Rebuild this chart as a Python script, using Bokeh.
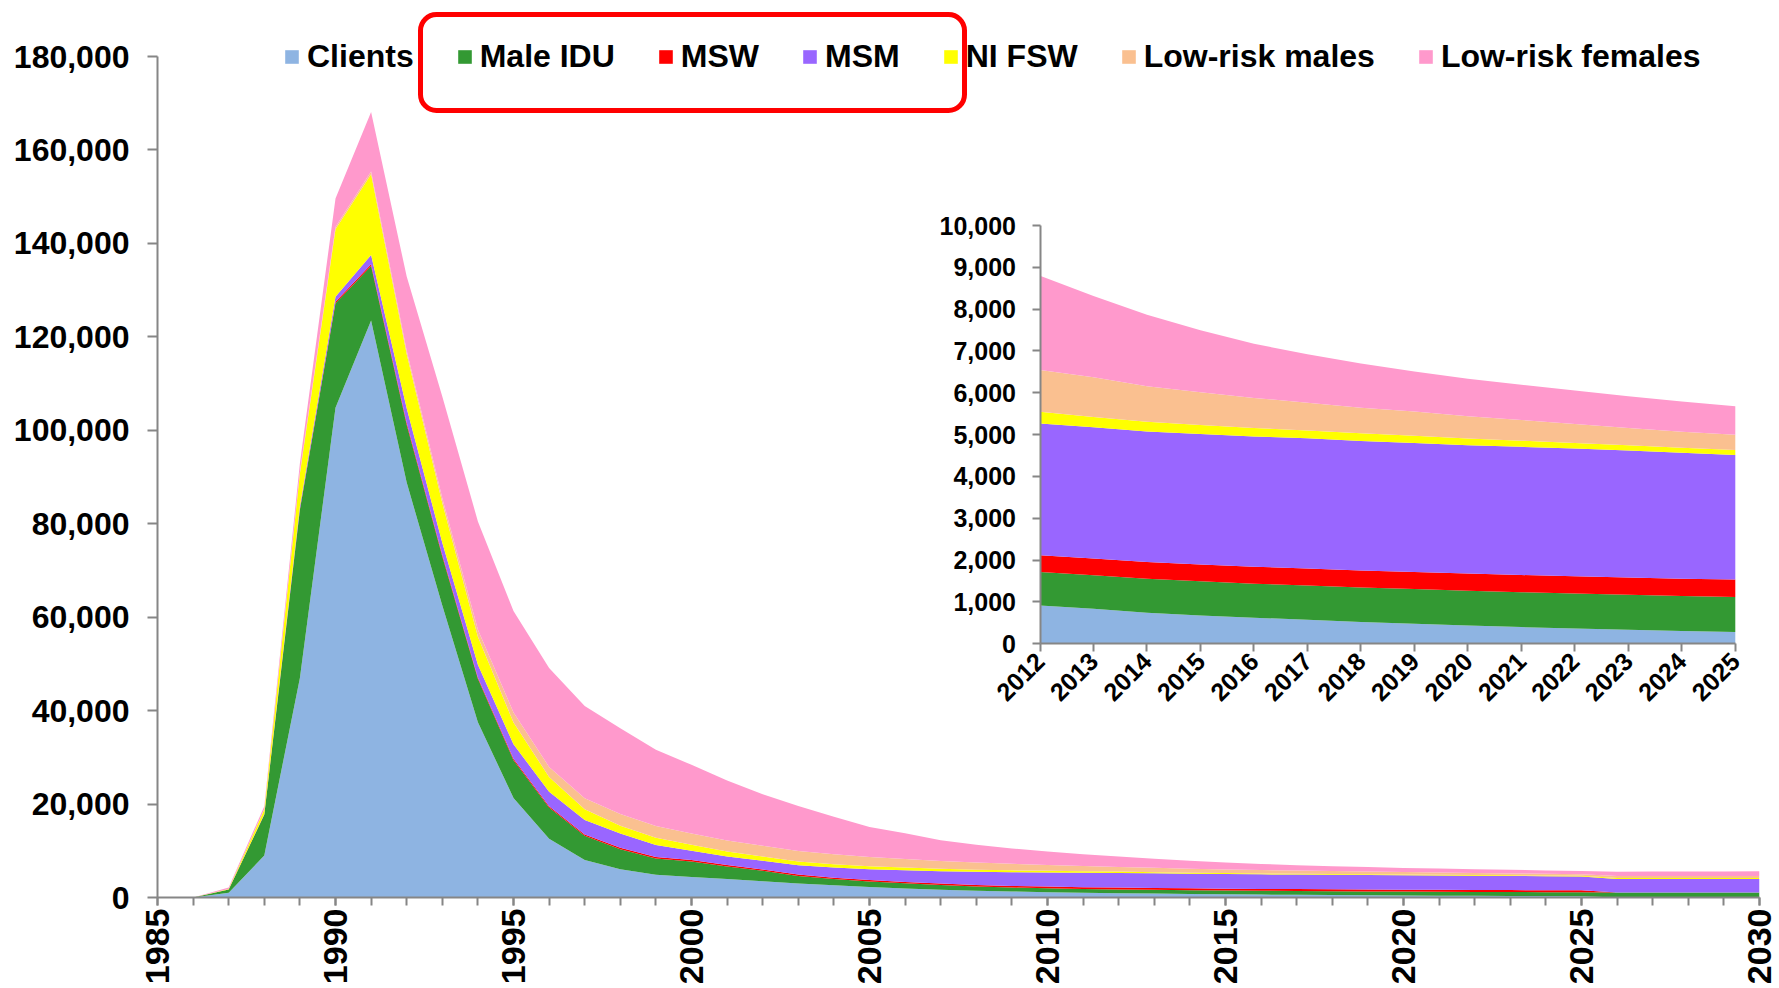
import math
from bokeh.plotting import figure
from bokeh.models import (Range1d, LinearAxis, FixedTicker, NumeralTickFormatter,
                          ColumnDataSource, BoxAnnotation)
from bokeh.embed import file_html
from bokeh.resources import INLINE

# ---------------- data ----------------
years = list(range(1985, 2031))
clients = [0, 0, 1000, 9000, 47000, 104800, 123500, 88800, 62500, 37500,
           21300, 12600, 8000, 6050, 4850, 4400, 3950, 3500, 3000, 2600,
           2250, 1950, 1680, 1450, 1280, 1150, 1030, 918, 839, 743,
           679, 623, 575, 519, 479, 439, 399, 367, 335, 304,
           280, 0, 0, 0, 0, 0]
male_idu = [0, 0, 700, 8700, 36000, 22400, 11650, 12400, 10500, 9300,
            8100, 6650, 5200, 4300, 3500, 3300, 2700, 2200, 1600, 1350,
            1200, 1080, 1000, 900, 860, 830, 810, 800, 800, 810,
            815, 815, 820, 825, 830, 830, 835, 835, 835, 838,
            840, 1080, 1080, 1080, 1080, 1080]
msw = [0, 0, 0, 50, 150, 300, 400, 400, 350, 300,
       300, 300, 300, 300, 300, 300, 300, 300, 300, 300,
       300, 300, 300, 300, 330, 360, 380, 400, 400, 402,
       404, 405, 406, 407, 408, 409, 410, 411, 412, 414,
       416, 0, 0, 0, 0, 0]
msm = [0, 0, 20, 100, 600, 1100, 1950, 3100, 2600, 2700,
       3100, 3100, 3100, 3050, 2600, 2000, 1850, 1850, 2020, 2170,
       2310, 2520, 2650, 2840, 2950, 3020, 3080, 3150, 3135, 3120,
       3115, 3115, 3110, 3100, 3085, 3070, 3065, 3055, 3040, 3010,
       2980, 2900, 2900, 2890, 2890, 2880]
ni_fsw = [0, 0, 100, 1000, 7000, 14400, 17300, 11600, 8500, 6000,
          4650, 3150, 2300, 1650, 1550, 1300, 1050, 930, 800, 720,
          650, 580, 520, 450, 390, 340, 300, 280, 250, 232,
          216, 200, 188, 180, 170, 160, 148, 135, 125, 120,
          120, 200, 200, 200, 200, 200]
lr_males = [0, 0, 20, 100, 300, 500, 600, 700, 1000, 1500,
            2150, 2150, 2350, 2500, 2500, 2400, 2350, 2280, 2230, 2140,
            1950, 1800, 1650, 1550, 1400, 1250, 1120, 1000, 950, 850,
            785, 720, 665, 615, 580, 530, 495, 450, 410, 385,
            360, 440, 440, 440, 440, 450]
lr_females = [0, 0, 300, 600, 1900, 6100, 12700, 15900, 21800, 23200,
              21700, 21150, 19750, 18400, 16300, 14700, 12850, 11050, 9650, 8000,
              6420, 5500, 4450, 3800, 3300, 2900, 2550, 2250, 1940, 1710,
              1480, 1295, 1160, 1055, 960, 900, 840, 805, 760, 720,
              680, 900, 920, 950, 980, 1000]

series_names = ["Clients", "Male IDU", "MSW", "MSM", "NI FSW",
                "Low-risk males", "Low-risk females"]
series_values = [clients, male_idu, msw, msm, ni_fsw, lr_males, lr_females]
colors = ["#8EB4E2", "#339933", "#FF0000", "#9966FF", "#FFFF00",
          "#FAC090", "#FF99CC"]

y_ticks = list(range(0, 180001, 20000))
x_label_years = list(range(1985, 2031, 5))
inset_years = list(range(2012, 2026))
inset_y_ticks = list(range(0, 10001, 1000))

# ---------------- layout geometry (pixels) ----------------
FONT = "Liberation Sans"
FRAME_W, FRAME_H = 1602, 897          # frame reaches canvas top (legend lives inside)
BL, BT, BR, BB = 157, 0, 20, 91
AXIS_PX = 841                          # pixel height of 0..180,000 on the main axis
AXIS_COLOR = "#868686"

# inset placement inside the frame (pixels from frame left / top)
IN_X0_PX, IN_X1_PX = 882.5, 1577.8      # 2012 and 2025
IN_Y0_PX, IN_Y1_PX = 643.3, 225.0       # 0 and 10,000

main = ColumnDataSource({"year": years, **{n: v for n, v in zip(series_names, series_values)}})
i0 = years.index(inset_years[0])
i1 = years.index(inset_years[-1]) + 1
inset = ColumnDataSource({"year": years[i0:i1],
                          **{n: v[i0:i1] for n, v in zip(series_names, series_values)}})

y_top = y_ticks[-1] * FRAME_H / AXIS_PX
p = figure(frame_width=FRAME_W, frame_height=FRAME_H,
           x_range=Range1d(years[0], years[-1]), y_range=Range1d(0, y_top),
           output_backend="svg", toolbar_location=None,
           min_border_left=BL, min_border_top=BT, min_border_right=BR,
           min_border_bottom=BB, background_fill_color="white",
           border_fill_color="white", outline_line_color=None)
p.grid.visible = False

p.varea_stack(stackers=series_names, x="year", color=colors, source=main,
              legend_label=series_names)

# main axes
ya = p.left[0]
ya.ticker = FixedTicker(ticks=y_ticks)
ya.formatter = NumeralTickFormatter(format="0,0")
ya.bounds = (y_ticks[0], y_ticks[-1])
xa = p.below[0]
xa.ticker = FixedTicker(ticks=x_label_years, minor_ticks=years)
xa.major_label_orientation = math.pi / 2
for ax, fs, standoff, tout in ((ya, "32px", 18, 10), (xa, "34px", 3, 8)):
    ax.axis_line_color = AXIS_COLOR
    ax.axis_line_width = 2
    ax.major_tick_line_color = AXIS_COLOR
    ax.major_tick_line_width = 2
    ax.minor_tick_line_color = AXIS_COLOR
    ax.minor_tick_line_width = 2
    ax.major_tick_in = 0
    ax.major_tick_out = tout
    ax.minor_tick_in = 0
    ax.minor_tick_out = tout
    ax.major_label_text_font = FONT
    ax.major_label_text_font_style = "bold"
    ax.major_label_text_font_size = fs
    ax.major_label_text_color = "black"
    ax.major_label_standoff = standoff
ya.minor_tick_line_color = None

# ---------------- inset via extra ranges ----------------
sx = (IN_X1_PX - IN_X0_PX) / (inset_years[-1] - inset_years[0])
sy = (IN_Y0_PX - IN_Y1_PX) / inset_y_ticks[-1]
p.extra_x_ranges = {"ix": Range1d(inset_years[0] - IN_X0_PX / sx,
                                  inset_years[0] + (FRAME_W - IN_X0_PX) / sx)}
p.extra_y_ranges = {"iy": Range1d(-(FRAME_H - IN_Y0_PX) / sy,
                                  IN_Y0_PX / sy)}

p.varea_stack(stackers=series_names, x="year", color=colors, source=inset,
              x_range_name="ix", y_range_name="iy")

iya = LinearAxis(x_range_name="ix", y_range_name="iy", fixed_location=inset_years[0],
                 bounds=(inset_y_ticks[0], inset_y_ticks[-1]),
                 ticker=FixedTicker(ticks=inset_y_ticks),
                 formatter=NumeralTickFormatter(format="0,0"))
ixa = LinearAxis(x_range_name="ix", y_range_name="iy", fixed_location=0,
                 bounds=(inset_years[0], inset_years[-1]),
                 ticker=FixedTicker(ticks=inset_years))
ixa.major_label_orientation = math.pi / 4
for ax, standoff in ((iya, 16), (ixa, 5)):
    ax.axis_line_color = AXIS_COLOR
    ax.axis_line_width = 2
    ax.major_tick_line_color = AXIS_COLOR
    ax.major_tick_line_width = 2
    ax.minor_tick_line_color = None
    ax.major_tick_in = 0
    ax.major_tick_out = 8
    ax.major_label_text_font = FONT
    ax.major_label_text_font_style = "bold"
    ax.major_label_text_font_size = "25px"
    ax.major_label_text_color = "black"
    ax.major_label_standoff = standoff
p.add_layout(iya, "left")
p.add_layout(ixa, "below")

# ---------------- legend ----------------
leg = p.legend[0]
leg.orientation = "horizontal"
leg.location = (126, 822)
leg.label_text_font = FONT
leg.label_text_font_style = "bold"
leg.label_text_font_size = "32px"
leg.label_text_color = "black"
leg.glyph_width = 17
leg.glyph_height = 17
leg.label_standoff = 7
leg.spacing = 42
leg.padding = 0
leg.margin = 0
leg.border_line_alpha = 0
leg.background_fill_alpha = 0

# red highlight box around three legend entries (page pixels -> data)
frame_left_page = BL
frame_bottom_page = BT + FRAME_H
def x_at(page_x):
    return years[0] + (page_x - frame_left_page) / FRAME_W * (years[-1] - years[0])
def y_at(page_y):
    return (frame_bottom_page - page_y) / AXIS_PX * y_ticks[-1]

box = BoxAnnotation(left=x_at(420), right=x_at(964), top=y_at(14), bottom=y_at(110),
                    fill_alpha=0, line_color="#FF0000", line_alpha=1, line_width=5,
                    border_radius=16, level="overlay")
p.add_layout(box)

open("out.html", "w").write(file_html(p, INLINE))
